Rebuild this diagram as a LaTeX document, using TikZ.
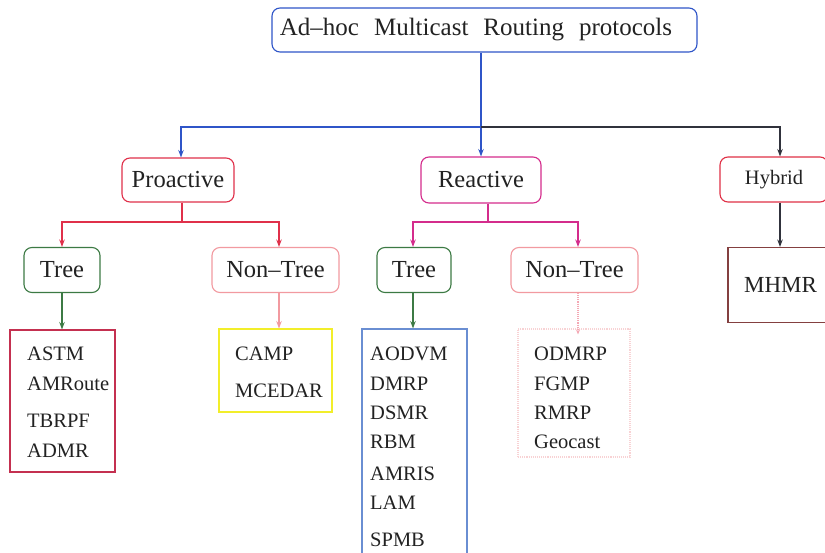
\documentclass[tikz,border=0pt]{standalone}
\usepackage{fontspec}
\setmainfont{Liberation Serif}
\newfontfamily\titlefont{Liberation Serif}[WordSpace=2.4]
\usetikzlibrary{arrows.meta}
\definecolor{topblue}{HTML}{2F55C8}
\definecolor{darkline}{HTML}{30323C}
\definecolor{prored}{HTML}{E0304A}
\definecolor{reamag}{HTML}{D42C8C}
\definecolor{hybred}{HTML}{E03046}
\definecolor{treegreen}{HTML}{3C7A44}
\definecolor{ntpink}{HTML}{F29AA0}
\definecolor{ntlight}{HTML}{F4A8B4}
\definecolor{astmred}{HTML}{C43050}
\definecolor{campyel}{HTML}{F2EE2A}
\definecolor{aodvblue}{HTML}{6A8ED2}
\definecolor{odmrpink}{HTML}{F8D2D4}
\definecolor{mhmrbrown}{HTML}{844040}
\definecolor{inkc}{HTML}{222222}
\tikzset{
  catbox/.style={draw, rounded corners=8pt, line width=1.1pt, inner sep=0pt,
    text=inkc, font=\fontsize{24.5}{28}\selectfont},
  listbox/.style={draw, line width=1.1pt, inner sep=0pt},
  item/.style={anchor=base west, inner sep=0pt, text=inkc,
    font=\fontsize{20.5}{24}\selectfont},
  link/.style={line width=1.1pt},
  arr/.style={link, -{Stealth[length=7.5pt,width=5.5pt]}},
}
\begin{document}
\begin{tikzpicture}[x=1pt,y=-1pt]
\path[use as bounding box, clip] (0,0) rectangle (825,553);
\fill[white] (0,0) rectangle (825,553);

% root
\node[catbox, draw=topblue, minimum width=425pt, minimum height=44pt,
  font=\titlefont\fontsize{25}{29}\selectfont] (top) at (484.5,30)
  {Ad–hoc Multicast Routing protocols\kern17pt};

% second level
\node[catbox, draw=prored, minimum width=112pt, minimum height=44pt] (pro) at (178,180) {Proactive};
\node[catbox, draw=reamag, minimum width=120pt, minimum height=46pt] (rea) at (481,180) {Reactive};
\node[catbox, draw=hybred, minimum width=108pt, minimum height=45pt,
  font=\fontsize{20.5}{24}\selectfont] (hyb) at (774,179.5) {Hybrid};

% third level
\node[catbox, draw=treegreen, minimum width=76pt, minimum height=45pt] (ptree) at (62,270) {Tree};
\node[catbox, draw=ntpink, minimum width=127pt, minimum height=45pt] (pnt) at (275.5,270) {Non–Tree};
\node[catbox, draw=treegreen, minimum width=74pt, minimum height=45pt] (rtree) at (414,270) {Tree};
\node[catbox, draw=ntpink, minimum width=127pt, minimum height=45pt] (rnt) at (574.5,270) {Non–Tree};

% leaf boxes
\node[listbox, draw=astmred, minimum width=105pt, minimum height=142pt] (ptlist) at (62.5,401) {};
\node[listbox, draw=campyel, minimum width=113pt, minimum height=83pt] (pntlist) at (275.5,370.5) {};
\node[listbox, draw=aodvblue, minimum width=105pt, minimum height=236pt] (rtlist) at (414.5,447) {};
\node[listbox, draw=odmrpink, densely dotted, minimum width=112pt, minimum height=128pt] (rntlist) at (574,393) {};
\node[listbox, draw=mhmrbrown, minimum width=105pt, minimum height=75pt,
  font=\fontsize{23}{27}\selectfont, text=inkc] (mhmr) at (780.5,285) {MHMR};

% leaf entries
\node[item] (astm) at (27,360) {ASTM};
\node[item] (amroute) at (27,390) {AMRoute};
\node[item] (tbrpf) at (27,427) {TBRPF};
\node[item] (admr) at (27,457) {ADMR};

\node[item] (camp) at (235,360) {CAMP};
\node[item] (mcedar) at (235,398) {MCEDAR};

\node[item] (aodvm) at (370,360) {AODVM};
\node[item] (dmrp) at (370,390) {DMRP};
\node[item] (dsmr) at (370,419) {DSMR};
\node[item] (rbm) at (370,448) {RBM};
\node[item] (amris) at (370,480) {AMRIS};
\node[item] (lam) at (370,509) {LAM};
\node[item] (spmb) at (370,546) {SPMB};

\node[item] (odmrp) at (534,360) {ODMRP};
\node[item] (fgmp) at (534,390) {FGMP};
\node[item] (rmrp) at (534,419) {RMRP};
\node[item] (geocast) at (534,448) {Geocast};

% junction points of the connectors
\coordinate (jt) at (481,127);
\coordinate (jl) at (181,127);
\coordinate (jr) at (780,127);
\coordinate (pj) at (182,222);
\coordinate (pl) at (62,222);
\coordinate (pr) at (279,222);
\coordinate (rj) at (488,222);
\coordinate (rl) at (413,222);
\coordinate (rr) at (578,222);

% root to categories
\draw[link, topblue] (jt |- top.south) -- (jt);
\draw[arr, topblue] (jt) -- (jl) -- (jl |- pro.north);
\draw[arr, topblue] (jt) -- (rea.north);
\draw[arr, darkline] (jt) -- (jr) -- (jr |- hyb.north);

% proactive branch
\draw[link, prored] (pj |- pro.south) -- (pj);
\draw[arr, prored] (pj) -- (pl) -- (ptree.north);
\draw[arr, prored] (pj) -- (pr) -- (pr |- pnt.north);
\draw[arr, treegreen] (pl |- ptree.south) -- (pl |- ptlist.north);
\draw[arr, ntpink] (pr |- pnt.south) -- (pr |- pntlist.north);

% reactive branch
\draw[link, reamag] (rj |- rea.south) -- (rj);
\draw[arr, reamag] (rj) -- (rl) -- (rl |- rtree.north);
\draw[arr, reamag] (rj) -- (rr) -- (rr |- rnt.north);
\draw[arr, treegreen] (rl |- rtree.south) -- (rl |- rtlist.north);
\draw[ntlight, line width=1.1pt, densely dotted,
  -{Stealth[length=5pt,width=4pt]}] (rr |- rnt.south) -- ([yshift=-6pt]rr |- rntlist.north);

% hybrid branch
\draw[arr, darkline] (jr |- hyb.south) -- (jr |- mhmr.north);
\end{tikzpicture}
\end{document}
